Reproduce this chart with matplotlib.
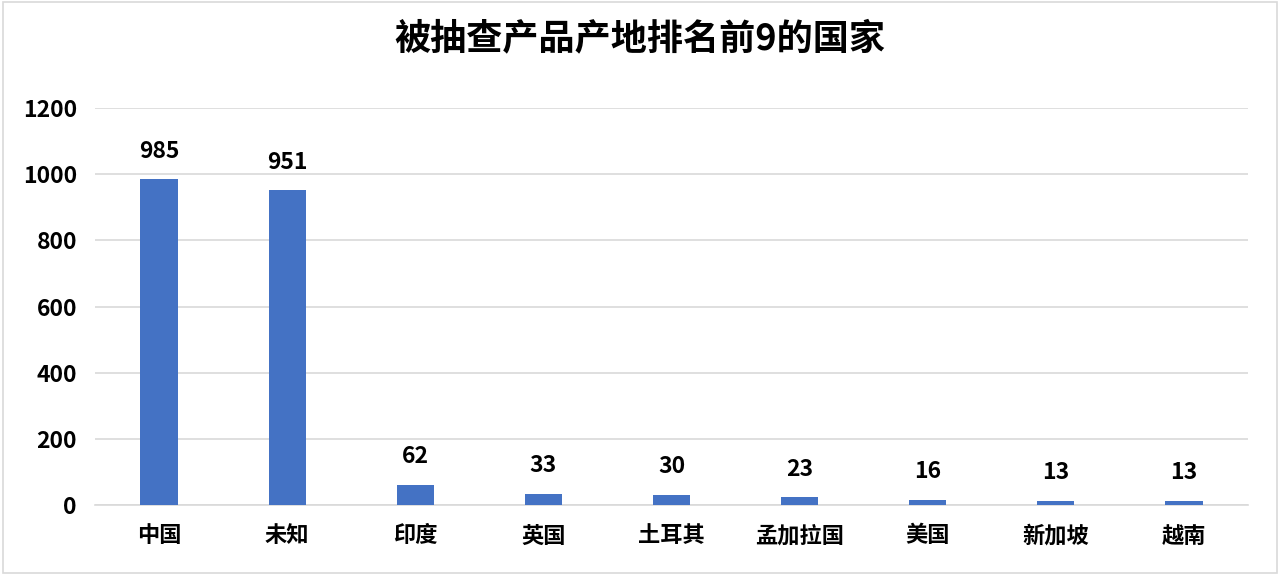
import matplotlib
matplotlib.use("Agg")
from matplotlib import pyplot as plt

plt.rcParams['font.family'] = ['Noto Sans CJK SC', 'DejaVu Sans']

countries = ['中国', '未知', '印度', '英国', '土耳其', '孟加拉国', '美国', '新加坡', '越南']
counts = [985, 951, 62, 33, 30, 23, 16, 13, 13]
yticks = [0, 200, 400, 600, 800, 1000, 1200]

fig = plt.figure(figsize=(12.8, 5.75), dpi=100)
ax = fig.add_axes([0.0742, 0.1217, 0.9008, 0.6903])

x = range(len(countries))
bars = ax.bar(x, counts, width=0.29, color='#4472C4', zorder=3)

for b, v in zip(bars, counts):
    ax.annotate(str(v), (b.get_x() + b.get_width() / 2, v), xytext=(0, 12),
                textcoords='offset points', ha='center', va='bottom',
                fontsize=16.5, fontweight='heavy')

ax.set_xlim(-0.5, len(countries) - 0.5)
ax.set_ylim(0, 1200)
ax.set_yticks(yticks)
ax.set_xticks(list(x))
ax.set_xticklabels(countries, fontsize=16, fontweight='heavy')
ax.tick_params(axis='y', labelsize=16.5, length=0, pad=13)
ax.tick_params(axis='x', length=0, pad=14)
for lab in ax.get_yticklabels():
    lab.set_fontweight('heavy')
ax.grid(axis='y', color='#d9d9d9', linewidth=1.2, zorder=0)
for s in ['top', 'right', 'left']:
    ax.spines[s].set_visible(False)
ax.spines['bottom'].set_color('#d9d9d9')
ax.spines['bottom'].set_linewidth(1.2)

fig.suptitle('被抽查产品产地排名前9的国家', fontsize=26, fontweight='heavy', y=0.965)

border = plt.Rectangle((0.002, 0.003), 0.996, 0.994, transform=fig.transFigure,
                       fill=False, edgecolor='#d9d9d9', linewidth=1.2)
fig.patches.append(border)

fig.savefig('out.png', dpi=100)
